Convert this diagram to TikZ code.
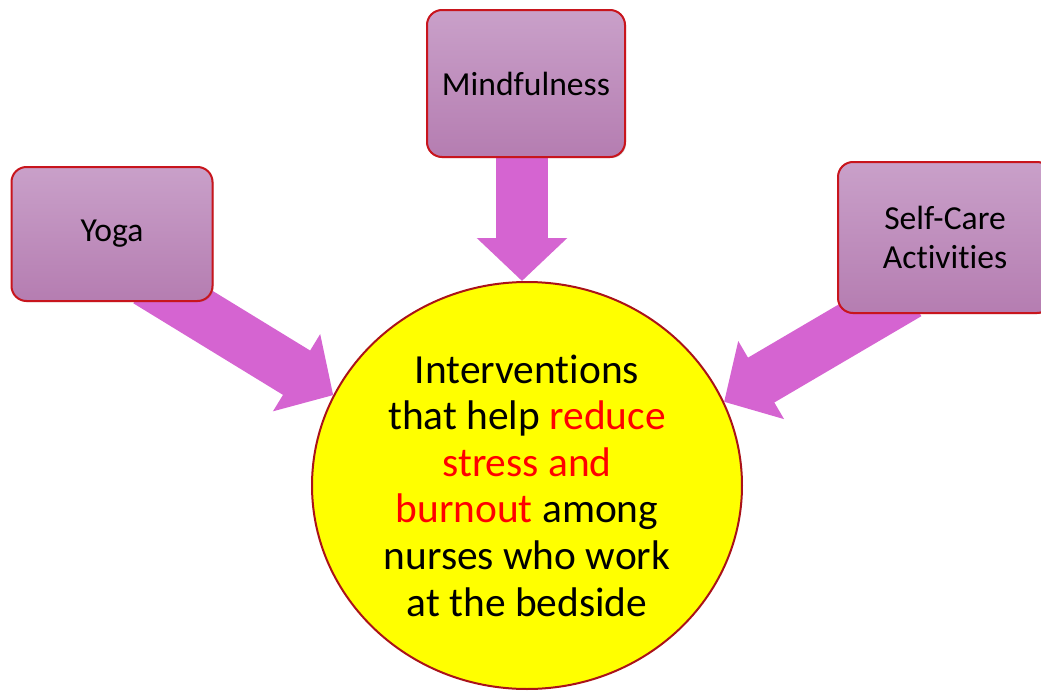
\documentclass[tikz,border=0pt]{standalone}
\usepackage{fontspec}
\setmainfont{Carlito}[Ligatures=NoCommon]
\usepackage{xcolor}
\usetikzlibrary{calc,arrows.meta,shapes.geometric,shadows,backgrounds}
\definecolor{boxtop}{HTML}{C9A0C9}
\definecolor{boxbot}{HTML}{B57DB1}
\definecolor{rim}{HTML}{C8151D}
\definecolor{flowpink}{HTML}{D564D1}
\definecolor{sun}{HTML}{FFFF00}
\definecolor{hot}{HTML}{FF0000}
\tikzset{
  topic/.style={draw=rim, line width=1pt, rounded corners=7.5pt,
    top color=boxtop, bottom color=boxbot, align=center, inner sep=0pt,
    font=\fontsize{16.8}{19.5}\selectfont,
    drop shadow={opacity=0.35, shadow xshift=0.6pt, shadow yshift=-0.6pt}},
  hub/.style={ellipse, draw=rim!85!black, line width=1pt, fill=sun,
    inner sep=0pt, align=center, font=\fontsize{20.7}{23.3}\selectfont},
  flow/.style={draw=flowpink, line width=26pt,
    -{Triangle[length=21.5pt,width=44pt]}, shorten <=-20pt},
  warn/.style={text=hot}
}

\begin{document}
\begin{tikzpicture}[x=0.5pt, y=-0.5pt]
  \useasboundingbox (0,0) rectangle (1041,691);

  % the goal in the middle
  \node[hub, minimum width=215pt, minimum height=203.5pt] (goal) at (527,485.5)
    {Interventions\\that help \textcolor{hot}{reduce}\\\textcolor{hot}{stress and}\\
     \textcolor{hot}{burnout} among\\nurses who work\\at the bedside};

  % three interventions round it
  \node[topic, minimum width=100.5pt, minimum height=67pt] (yoga) at (112,234) {Yoga};
  \node[topic, minimum width=99pt, minimum height=73.5pt] (mind) at (526,83.5) {Mindfulness};
  \node[topic, minimum width=107pt, minimum height=75.5pt] (care) at (945,237.5) {Self-Care\\Activities};

  \coordinate (yogaout) at ($(yoga.south)!0.68!(yoga.south east)$);
  \coordinate (mindout) at ($(mind.south)+(-4,0)$);
  \coordinate (careout) at ($(care.south west)!0.34!(care.south)$);

  \begin{scope}[on background layer]
    \draw[flow] (yogaout) -- (goal.155);
    \draw[flow] (mindout) -- (mindout |- goal.north);
    \draw[flow] (careout) -- (goal.23);
  \end{scope}
\end{tikzpicture}
\end{document}
